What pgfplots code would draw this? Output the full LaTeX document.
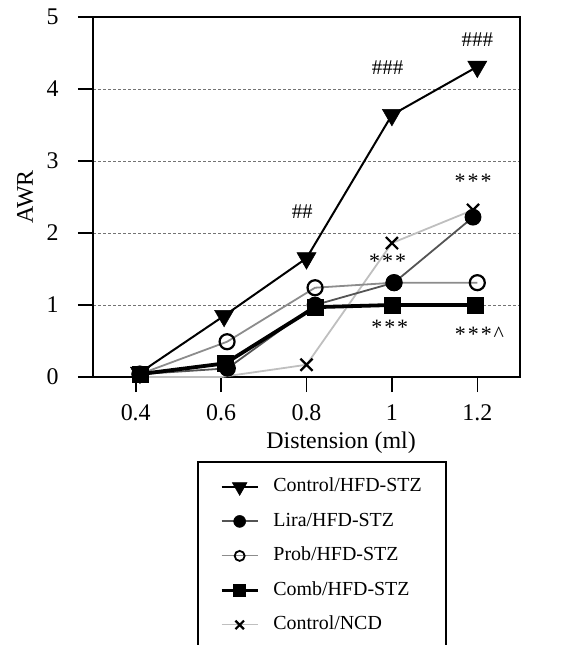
\documentclass[border=0pt]{standalone}
\usepackage{pgfplots}
\pgfplotsset{compat=1.18}
\usepackage{fontspec}
\setmainfont{Liberation Serif}
\definecolor{lira}{gray}{0.33}
\definecolor{prob}{gray}{0.55}
\definecolor{ncd}{gray}{0.75}
\definecolor{gridc}{gray}{0.45}
\begin{document}
\begin{tikzpicture}
\useasboundingbox (0bp,0bp) rectangle (583bp,645bp);
\begin{axis}[
  at={(93bp,268bp)}, anchor=south west,
  scale only axis, width=427bp, height=360bp,
  xmin=0.3, xmax=1.3, ymin=0, ymax=5,
  xtick={0.4,0.6,0.8,1,1.2},
  xticklabels={0.4,0.6,0.8,1,1.2},
  ytick={0,1,2,3,4,5},
  /pgf/number format/assume math mode=true,
  tick align=outside,
  xtick pos=bottom, ytick pos=left,
  major tick length=15bp,
  every tick/.style={black, line width=1.6bp},
  axis line style={line width=1.8bp},
  ymajorgrids,
  grid style={gridc, dash pattern=on 3bp off 2bp, line width=0.8bp},
  tick label style={font=\fontsize{24}{26}\selectfont},
  xticklabel style={yshift=-9bp},
  yticklabel style={xshift=-16bp},
  xlabel={Distension (ml)},
  ylabel={AWR},
  label style={font=\fontsize{24}{26}\selectfont},
  xlabel style={at={(axis description cs:0.581,-0.183)}, anchor=center},
  ylabel style={at={(axis description cs:-0.159,0.5)}, anchor=center},
  legend style={at={(axis description cs:0.2436,-0.2333)}, anchor=north west,
    draw=black, line width=1.8bp, font=\fontsize{20}{22}\selectfont,
    inner xsep=22bp, inner ysep=13bp,
    row sep=10.5bp, column sep=12bp,
    nodes={text height=15bp, text depth=5bp, inner sep=2bp}},
  legend cell align=left,
  legend image code/.code={\draw[mark repeat=2,mark phase=2] plot coordinates {(0bp,0bp) (18bp,0bp) (36bp,0bp)};},
  clip=false,
]
% legend entries
\addlegendimage{black, line width=1.8bp, mark=triangle*, mark size=8.5bp, mark options={rotate=180, fill=black, line width=0.5bp}}
\addlegendentry{Control/HFD-STZ}
\addlegendimage{lira, line width=1.8bp, mark=*, mark size=6bp, mark options={fill=black, draw=black, line width=0.5bp}}
\addlegendentry{Lira/HFD-STZ}
\addlegendimage{prob, line width=1.2bp, mark=o, mark size=5bp, mark options={draw=black, fill=white, line width=1.8bp}}
\addlegendentry{Prob/HFD-STZ}
\addlegendimage{black, line width=3.5bp, mark=square*, mark size=6bp, mark options={fill=black, line width=0.5bp}}
\addlegendentry{Comb/HFD-STZ}
\addlegendimage{ncd, line width=1.2bp, mark=x, mark size=6bp, mark options={draw=black, line width=2.2bp}}
\addlegendentry{Control/NCD}
% data (drawn in stacking order)
\addplot[forget plot, ncd, line width=1.8bp, mark=x, mark size=8.5bp, mark indices={3,4,5}, mark options={draw=black, line width=2.2bp}]
  coordinates {(0.4,0) (0.6,0) (0.8,0.17) (1.0,1.86) (1.19,2.32)};
\addplot[forget plot, prob, line width=1.8bp, mark=o, mark size=7.5bp, mark options={draw=black, fill=white, line width=2.2bp}]
  coordinates {(0.41,0.04) (0.614,0.49) (0.82,1.24) (1.005,1.31) (1.2,1.31)};
\addplot[forget plot, lira, line width=1.8bp, mark=*, mark size=7.5bp, mark options={fill=black, draw=black}]
  coordinates {(0.41,0.04) (0.615,0.12) (0.82,1.0) (1.005,1.31) (1.19,2.22)};
\addplot[forget plot, black, line width=3.8bp, mark=square*, mark size=8bp, mark options={fill=black, line width=0.5bp}]
  coordinates {(0.41,0.04) (0.61,0.19) (0.82,0.97) (1.0,1.0) (1.195,1.0)};
\addplot[forget plot, black, line width=2bp, mark=triangle*, mark size=11bp, mark options={rotate=180, fill=black, line width=0.5bp}]
  coordinates {(0.41,0.06) (0.607,0.85) (0.8,1.65) (1.0,3.64) (1.2,4.31)};
% significance labels
\node[font=\fontsize{21}{23}\selectfont] at (axis cs:0.79,2.3) {\#\#};
\node[font=\fontsize{21}{23}\selectfont] at (axis cs:0.99,4.3) {\#\#\#};
\node[font=\fontsize{21}{23}\selectfont] at (axis cs:1.2,4.68) {\#\#\#};
\node[font=\fontsize{22}{24}\selectfont] at (axis cs:1.19,2.72) {*\kern2bp*\kern2bp*};
\node[font=\fontsize{22}{24}\selectfont] at (axis cs:0.99,1.61) {*\kern2bp*\kern2bp*};
\node[font=\fontsize{22}{24}\selectfont] at (axis cs:0.995,0.69) {*\kern2bp*\kern2bp*};
\node[font=\fontsize{22}{24}\selectfont] at (axis cs:1.205,0.59) {*\kern2bp*\kern2bp*\kern2bp\^{}};
\end{axis}
\end{tikzpicture}
\end{document}
